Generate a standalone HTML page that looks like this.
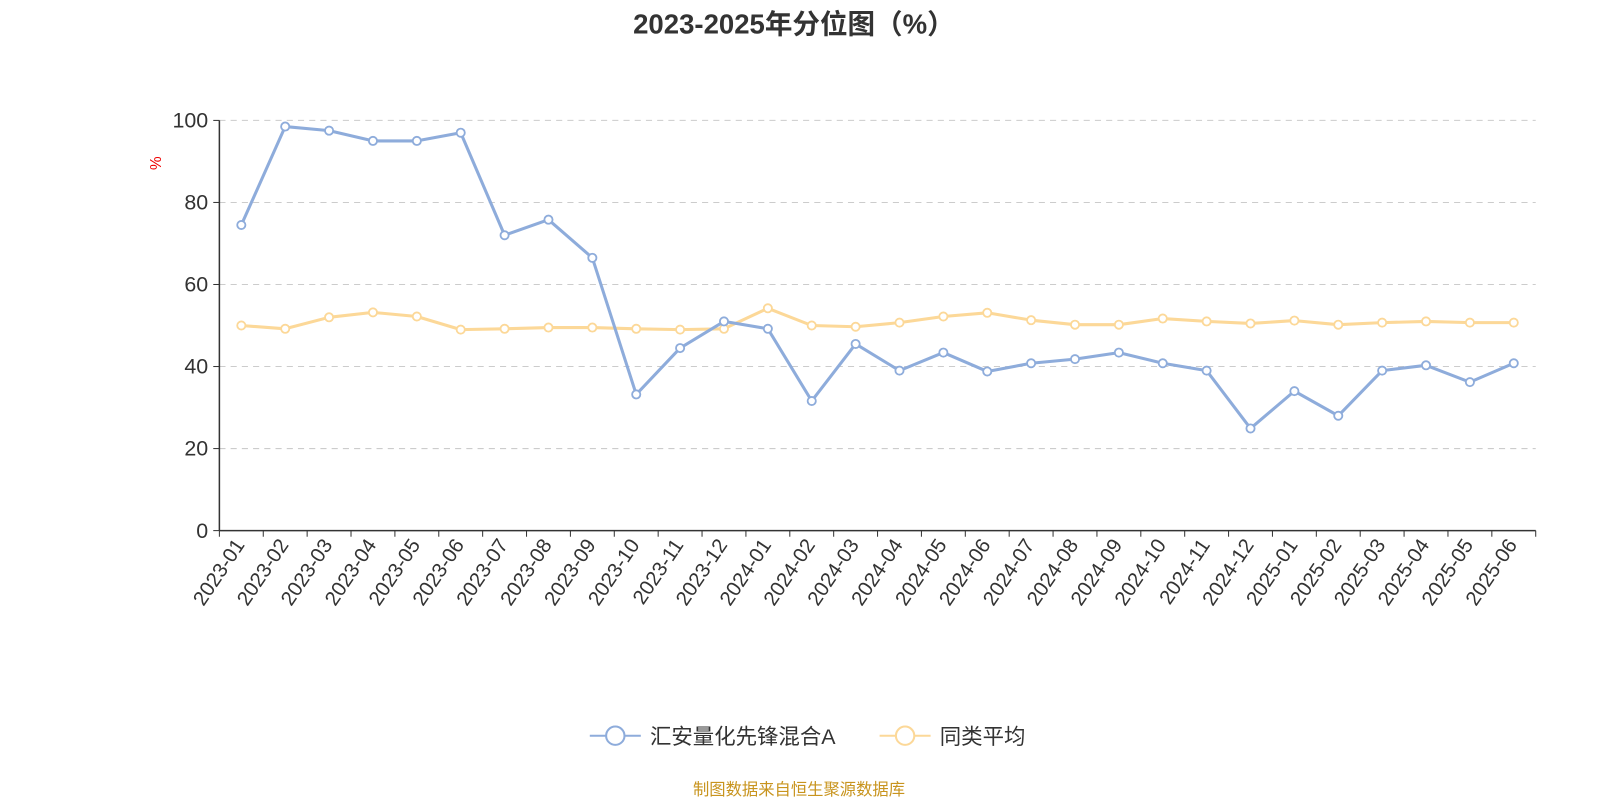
<!DOCTYPE html>
<html><head><meta charset="utf-8"><style>
body{margin:0;background:#fff;width:1600px;height:800px;overflow:hidden}
svg text{font-family:"Liberation Sans","Noto Sans CJK SC",sans-serif}
</style></head><body>
<svg id="c" width="1600" height="800" viewBox="0 0 1568 784">
<text x="778" y="33" text-anchor="middle" font-size="27" font-weight="bold" fill="#333">2023-2025年分位图（%）</text>
<text transform="translate(158,160) rotate(-90)" text-anchor="middle" font-size="15" fill="#e00">%</text>
<g id="grid"></g><g id="xa"></g><g id="lines"></g>
<g>
<g><line x1="578" y1="721" x2="628" y2="721" stroke="#8eacdb" stroke-width="2"/><circle cx="603" cy="721" r="9" fill="#fff" stroke="#8eacdb" stroke-width="2"/><text x="637" y="729" font-size="21" fill="#333">汇安量化先锋混合A</text></g>
<g><line x1="862" y1="721" x2="912" y2="721" stroke="#fcd898" stroke-width="2"/><circle cx="887" cy="721" r="9" fill="#fff" stroke="#fcd898" stroke-width="2"/><text x="921" y="729" font-size="21" fill="#333">同类平均</text></g>
</g>
<text x="783" y="779" text-anchor="middle" font-size="16" fill="#c8941e">制图数据来自恒生聚源数据库</text>
</svg>
<script>
const categories=["2023-01","2023-02","2023-03","2023-04","2023-05","2023-06","2023-07","2023-08","2023-09","2023-10","2023-11","2023-12","2024-01","2024-02","2024-03","2024-04","2024-05","2024-06","2024-07","2024-08","2024-09","2024-10","2024-11","2024-12","2025-01","2025-02","2025-03","2025-04","2025-05","2025-06"];
const fundValues=[74.5,98.5,97.5,95,95,97,72,75.8,66.5,33.2,44.5,51,49.2,31.6,45.5,39,43.4,38.8,40.8,41.8,43.4,40.8,39,24.9,34,28,39,40.3,36.2,40.8];
const avgValues=[50,49.2,52,53.2,52.2,49,49.2,49.5,49.5,49.2,49,49.2,54.2,50,49.7,50.7,52.2,53.1,51.3,50.2,50.2,51.7,51,50.5,51.2,50.2,50.7,51,50.7,50.7];
const yTicks=[0,20,40,60,80,100];
const NS="http://www.w3.org/2000/svg";
const L=215,R=1505,T=118,B=520;
const bw=(R-L)/categories.length;
const xS=i=>L+bw*(i+0.5);
const yS=v=>B-(v/100)*(B-T);
function mk(tag,attrs,parent){const e=document.createElementNS(NS,tag);for(const k in attrs)e.setAttribute(k,attrs[k]);parent.appendChild(e);return e;}
const grid=document.getElementById('grid'),xa=document.getElementById('xa'),lines=document.getElementById('lines');
yTicks.forEach(v=>{
 if(v>0){const g=mk('line',{x1:L,x2:R,y1:yS(v),y2:yS(v),stroke:'#ccc','stroke-dasharray':'6,5'},grid);
 
 }
 const t=mk('text',{x:L-11,y:yS(v)+7,'text-anchor':'end','font-size':'21',fill:'#333'},grid);t.textContent=v;
 
 
 mk('line',{x1:L-6,x2:L,y1:yS(v),y2:yS(v),stroke:'#333'},grid);
});
mk('line',{x1:L,x2:L,y1:T,y2:B,stroke:'#333','stroke-width':1.5},grid);
mk('line',{x1:L,x2:R,y1:B,y2:B,stroke:'#333','stroke-width':1.5},xa);
for(let i=0;i<=categories.length;i++)mk('line',{x1:L+bw*i,x2:L+bw*i,y1:B,y2:B+6,stroke:'#333'},xa);
categories.forEach((c,i)=>{
 const t=mk('text',{transform:`translate(${xS(i)+4},${B+14}) rotate(-56)`,'text-anchor':'end','font-size':'20',fill:'#333'},xa);
 t.textContent=c;
 
 
});
function series(vals,color,name){
 const p=mk('polyline',{points:vals.map((v,i)=>xS(i)+','+yS(v)).join(' '),fill:'none',stroke:color,'stroke-width':3,'stroke-linejoin':'round'},lines);
 
 
 vals.forEach((v,i)=>{const c=mk('circle',{cx:xS(i),cy:yS(v),r:4,fill:'#fff',stroke:color,'stroke-width':1.8},lines);
 
 });
}
series(avgValues,'#fcd898','average');
series(fundValues,'#8eacdb','fund');
</script>
</body></html>
